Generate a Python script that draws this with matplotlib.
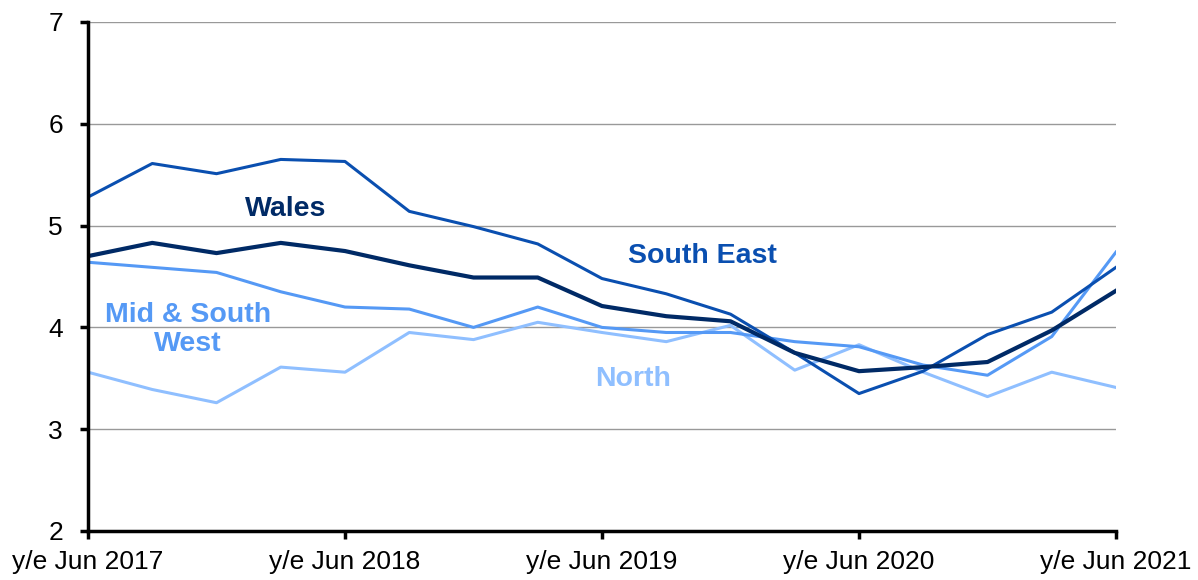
import matplotlib.pyplot as plt

plt.rcParams['font.family'] = ['Liberation Sans', 'DejaVu Sans']

# quarterly periods, y/e Jun 2017 .. y/e Jun 2021
quarters = ["y/e Jun 2017", "y/e Sep 2017", "y/e Dec 2017", "y/e Mar 2018",
            "y/e Jun 2018", "y/e Sep 2018", "y/e Dec 2018", "y/e Mar 2019",
            "y/e Jun 2019", "y/e Sep 2019", "y/e Dec 2019", "y/e Mar 2020",
            "y/e Jun 2020", "y/e Sep 2020", "y/e Dec 2020", "y/e Mar 2021",
            "y/e Jun 2021"]

south_east = [5.28, 5.61, 5.51, 5.65, 5.63, 5.14, 4.99, 4.82, 4.48, 4.33,
              4.13, 3.75, 3.35, 3.57, 3.93, 4.15, 4.59]
wales = [4.70, 4.83, 4.73, 4.83, 4.75, 4.61, 4.49, 4.49, 4.21, 4.11,
         4.06, 3.75, 3.57, 3.61, 3.66, 3.97, 4.36]
mid_south_west = [4.64, 4.59, 4.54, 4.35, 4.20, 4.18, 4.00, 4.20, 4.00, 3.95,
                  3.95, 3.86, 3.81, 3.63, 3.53, 3.91, 4.74]
north = [3.56, 3.39, 3.26, 3.61, 3.56, 3.95, 3.88, 4.05, 3.95, 3.86,
         4.02, 3.58, 3.83, 3.56, 3.32, 3.56, 3.41]

c_se = '#0a4fb0'
c_wales = '#002a66'
c_msw = '#5599f5'
c_north = '#8fbfff'

fig = plt.figure(figsize=(11.98, 5.80), dpi=100)
ax = fig.add_axes([88 / 1198, 1 - 531 / 580, (1116 - 88) / 1198, (531 - 22) / 580])

x = list(range(len(quarters)))
ax.plot(x, north, color=c_north, lw=2.2)
ax.plot(x, mid_south_west, color=c_msw, lw=2.2)
ax.plot(x, south_east, color=c_se, lw=2.2)
ax.plot(x, wales, color=c_wales, lw=3)

ax.text(3.07, 5.16, 'Wales', color=c_wales, fontsize=20.5, fontweight='bold', ha='center', va='center')
ax.text(9.57, 4.70, 'South East', color=c_se, fontsize=20.5, fontweight='bold', ha='center', va='center')
ax.text(1.56, 3.98, 'Mid & South\nWest', color=c_msw, fontsize=20.5, fontweight='bold',
        ha='center', va='center', linespacing=1.15)
ax.text(8.48, 3.49, 'North', color=c_north, fontsize=20.5, fontweight='bold', ha='center', va='center')

ax.set_xlim(0, len(quarters) - 1)
ax.set_ylim(2, 7)
ax.set_xticks(x[::4])
ax.set_xticklabels(quarters[::4])
ax.set_yticks([2, 3, 4, 5, 6, 7])
ax.tick_params(axis='both', labelsize=19, width=2.5, length=6, color='black')
ax.tick_params(axis='y', pad=12)
ax.tick_params(axis='x', pad=8)

ax.grid(axis='y', color='#999999', lw=1)
ax.set_axisbelow(True)
for s in ['top', 'right']:
    ax.spines[s].set_visible(False)
for s in ['left', 'bottom']:
    ax.spines[s].set_linewidth(2.5)

fig.savefig('out.png', dpi=100)
